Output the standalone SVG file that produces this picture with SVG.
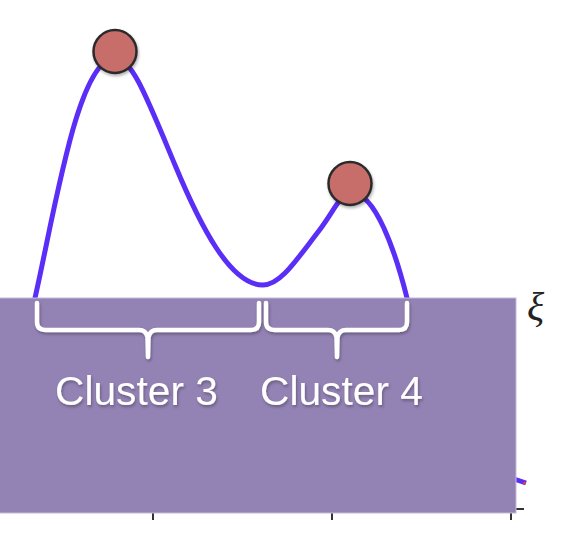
<svg xmlns="http://www.w3.org/2000/svg" width="578" height="536" viewBox="0 0 578 536">
  <style>
    .curve { fill: none; stroke: #5b2ef7; stroke-width: 5; stroke-linecap: round; }
    .peak { fill: #c76d6a; stroke: #2b2b2b; stroke-width: 2.5; }
    .brace { fill: none; stroke: #ffffff; stroke-width: 4.5; stroke-linecap: round; stroke-linejoin: round; }
    .label { font-family: "Liberation Sans", Arial, sans-serif; font-size: 41px; fill: #ffffff; }
    .tick { stroke: #333333; stroke-width: 2; }
  </style>
  <defs>
    <filter id="shadow" x="-20%" y="-20%" width="140%" height="160%">
      <feDropShadow dx="1" dy="2" stdDeviation="1.8" flood-color="#000000" flood-opacity="0.3"/>
    </filter>
  </defs>
  <rect width="578" height="536" fill="#ffffff"/>

  <g id="axis">
    <line class="tick" x1="153" y1="513" x2="153" y2="520"/>
    <line class="tick" x1="332" y1="513" x2="332" y2="520"/>
    <line class="tick" x1="511" y1="513" x2="511" y2="520"/>
    <line class="tick" x1="515" y1="509" x2="524" y2="509"/>
    <line x1="514" y1="479" x2="526" y2="483" stroke="#5b2ef7" stroke-width="5"/>
    <circle cx="524.5" cy="483" r="1.5" fill="#e0403a"/>
    <text id="xi" x="527" y="320" font-family="Liberation Serif, 'DejaVu Serif', serif" font-style="italic" font-size="40" fill="#222222">ξ</text>
  </g>

  <g id="connectors">
    <path class="curve" d="M35,298 C55,210 78,58 115,58 C132,58 147,98 175,165 C200,225 230,285 263,285 C280,285 295,262 318,232 C335,210 340,193 352,193 C375,193 395,250 407,298"/>
  </g>

  <g id="peak1"><circle class="peak" cx="115" cy="51.5" r="21.5" filter="url(#shadow)"/></g>
  <g id="peak2"><circle class="peak" cx="350" cy="183.5" r="21.5" filter="url(#shadow)"/></g>

  <g id="panel">
    <rect x="-1" y="298" width="517" height="215" fill="#9382b4" stroke="#c3b9d9" stroke-width="1"/>
  </g>

  <g id="cluster3" filter="url(#shadow)">
    <path class="brace" d="M37,303 L37,322 Q37,330 46,330 L139,330 Q146,330 147.5,337 L148,357 M148,357 L148.5,337 Q150,330 157,330 L251,330 Q259,330 259,322 L259,303"/>
    <text class="label" x="55" y="405" textLength="163" lengthAdjust="spacingAndGlyphs">Cluster 3</text>
  </g>

  <g id="cluster4" filter="url(#shadow)">
    <path class="brace" d="M266,303 L266,322 Q266,330 275,330 L328,330 Q335,330 336.5,337 L337,357 M337,357 L337.5,337 Q339,330 346,330 L399,330 Q407,330 407,322 L407,303"/>
    <text class="label" x="260" y="405" textLength="163" lengthAdjust="spacingAndGlyphs">Cluster 4</text>
  </g>
</svg>
